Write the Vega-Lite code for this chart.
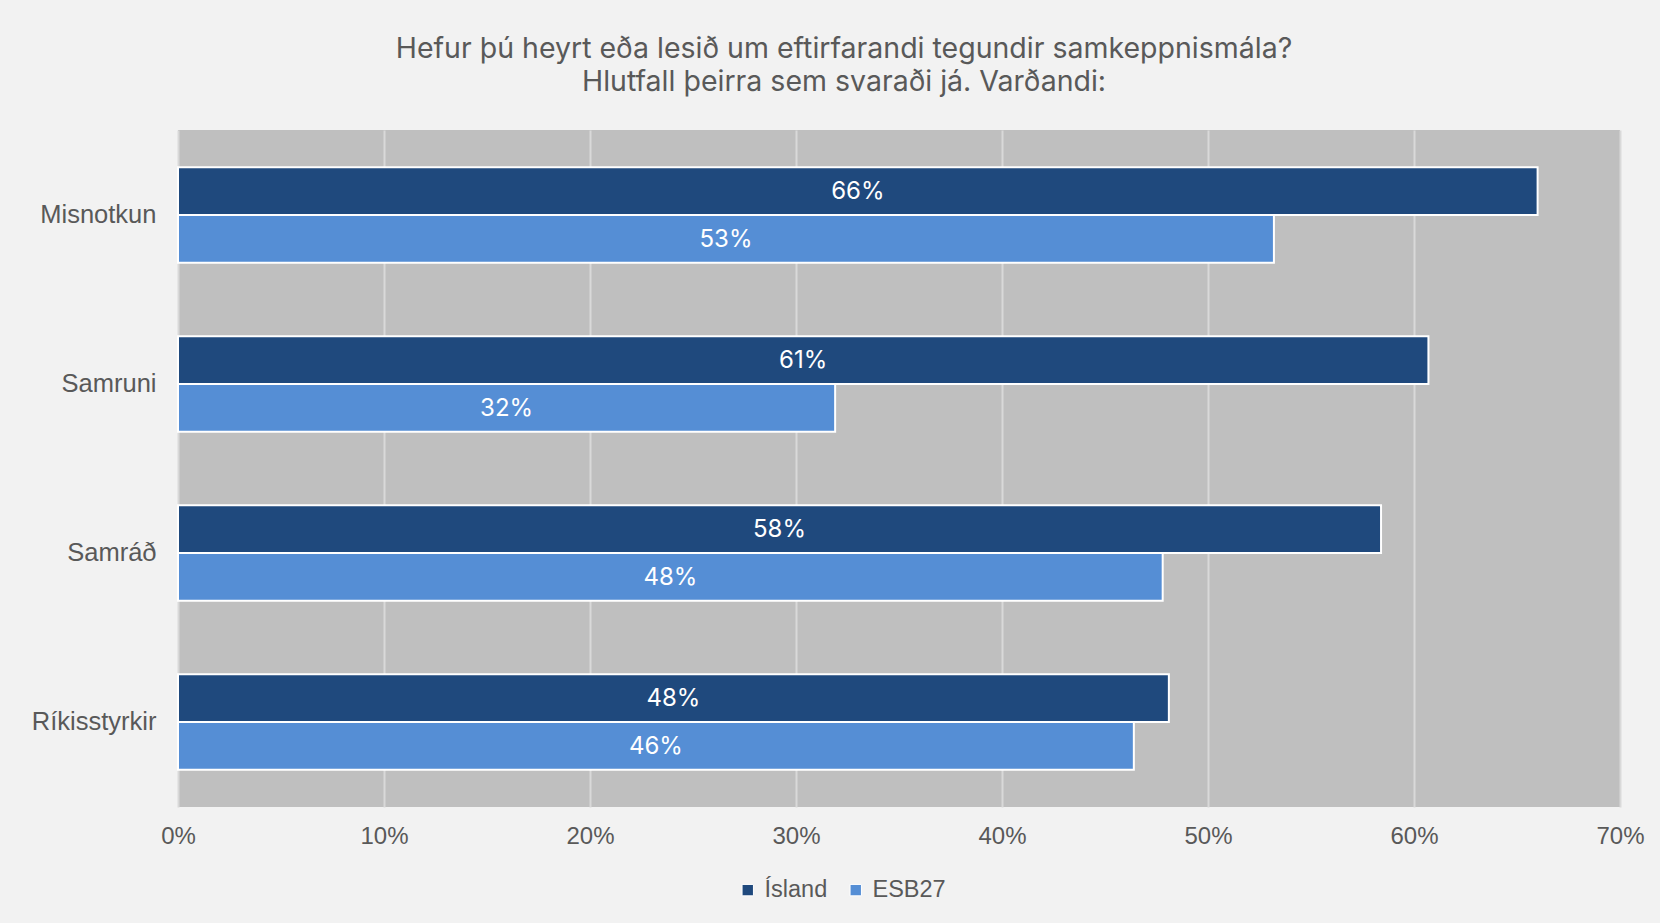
{
  "$schema": "https://vega.github.io/schema/vega-lite/v6.json",
  "width": 1442,
  "height": 677,
  "autosize": "none",
  "padding": {"left": 178, "top": 130, "right": 40, "bottom": 116},
  "background": "#f2f2f2",
  "title": {
    "text": ["Hefur þú heyrt eða lesið um eftirfarandi tegundir samkeppnismála?", "Hlutfall þeirra sem svaraði já. Varðandi:"],
    "anchor": "middle",
    "dx": -55,
    "offset": 34,
    "font": "Inter",
    "fontSize": 28.5,
    "fontWeight": "normal",
    "lineHeight": 33,
    "color": "#595959"
  },
  "data": {
    "values": [
      {"flokkur": "Misnotkun", "hopur": "Ísland", "hlutfall": 0.66},
      {"flokkur": "Misnotkun", "hopur": "ESB27", "hlutfall": 0.532},
      {"flokkur": "Samruni", "hopur": "Ísland", "hlutfall": 0.607},
      {"flokkur": "Samruni", "hopur": "ESB27", "hlutfall": 0.319},
      {"flokkur": "Samráð", "hopur": "Ísland", "hlutfall": 0.584},
      {"flokkur": "Samráð", "hopur": "ESB27", "hlutfall": 0.478},
      {"flokkur": "Ríkisstyrkir", "hopur": "Ísland", "hlutfall": 0.481},
      {"flokkur": "Ríkisstyrkir", "hopur": "ESB27", "hlutfall": 0.464}
    ]
  },
  "encoding": {
    "y": {
      "field": "flokkur",
      "type": "nominal",
      "sort": ["Misnotkun", "Samruni", "Samráð", "Ríkisstyrkir"],
      "scale": {"paddingInner": 0.435, "paddingOuter": 0.22},
      "axis": {
        "title": null,
        "ticks": false,
        "domain": false,
        "labelFont": "Liberation Sans",
        "labelFontSize": 25.5,
        "labelColor": "#595959",
        "labelPadding": 22
      }
    },
    "yOffset": {
      "field": "hopur",
      "type": "nominal",
      "sort": ["Ísland", "ESB27"],
      "scale": {"paddingInner": 0, "paddingOuter": 0}
    }
  },
  "layer": [
    {
      "mark": {"type": "bar", "stroke": "#ffffff", "strokeWidth": 2},
      "encoding": {
        "x": {
          "field": "hlutfall",
          "type": "quantitative",
          "scale": {"domain": [0, 0.7], "nice": false},
          "axis": {
            "title": null,
            "values": [0, 0.1, 0.2, 0.3, 0.4, 0.5, 0.6, 0.7],
            "format": ".0%",
            "ticks": false,
            "domain": false,
            "grid": true,
            "gridColor": "#d9d9d9",
            "gridWidth": 2,
            "labelFont": "Liberation Sans",
            "labelFontSize": 24,
            "labelColor": "#595959",
            "labelPadding": 17,
            "labelFlush": false
          }
        },
        "color": {
          "field": "hopur",
          "type": "nominal",
          "sort": ["Ísland", "ESB27"],
          "scale": {"domain": ["Ísland", "ESB27"], "range": ["#1f497d", "#558ed5"]},
          "legend": {
            "title": null,
            "orient": "none",
            "direction": "horizontal",
            "legendX": 558,
            "legendY": 748,
            "symbolType": "square",
            "symbolSize": 130,
            "symbolStrokeColor": "#ffffff",
            "symbolStrokeWidth": 1,
            "labelFont": "Liberation Sans",
            "labelFontSize": 23.5,
            "labelColor": "#595959",
            "columnPadding": 16,
            "labelOffset": 5
          }
        }
      }
    },
    {
      "transform": [{"calculate": "datum.hlutfall / 2", "as": "midja"}],
      "mark": {"type": "text", "color": "#ffffff", "font": "Inter", "fontSize": 24, "align": "center", "baseline": "middle", "dy": 1},
      "encoding": {
        "x": {"field": "midja", "type": "quantitative"},
        "text": {"field": "hlutfall", "type": "quantitative", "format": ".0%"}
      }
    }
  ],
  "config": {
    "view": {"fill": "#bfbfbf", "stroke": null}
  }
}
